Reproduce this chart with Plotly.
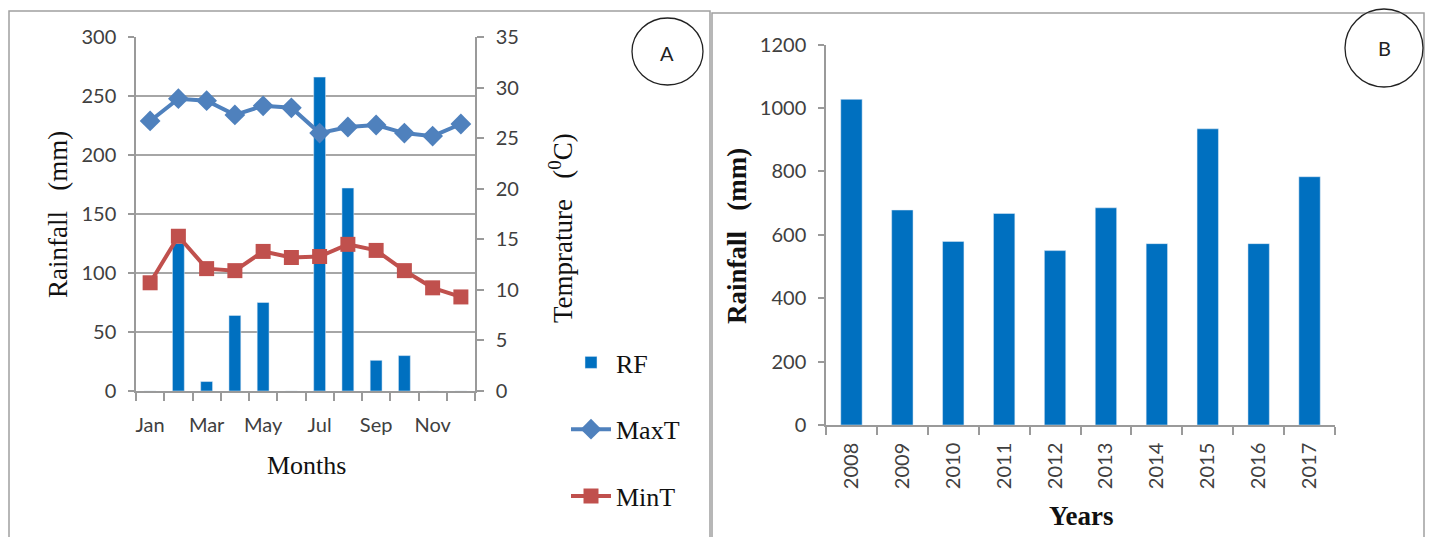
import plotly.graph_objects as go

W, H = 1429, 537

# ---------------- data ----------------
months = ["Jan", "Feb", "Mar", "Apr", "May", "Jun", "Jul", "Aug", "Sep", "Oct", "Nov", "Dec"]
rainfall_monthly = [0, 125, 8, 64, 75, 0, 266, 172, 26, 30, 0, 0]
max_temp = [26.7, 28.9, 28.7, 27.3, 28.2, 28.0, 25.5, 26.1, 26.3, 25.5, 25.2, 26.4]
min_temp = [10.7, 15.3, 12.1, 11.9, 13.8, 13.2, 13.3, 14.5, 13.9, 11.9, 10.2, 9.3]

years = ["2008", "2009", "2010", "2011", "2012", "2013", "2014", "2015", "2016", "2017"]
rainfall_annual = [1027, 678, 579, 667, 550, 685, 572, 934, 572, 783]

month_ticktext = [m if i % 2 == 0 else " " for i, m in enumerate(months)]

# ---------------- styling ----------------
def px(x):
    return x / W

def py(y):
    return 1 - y / H

SANS = "Lato, 'Open Sans', sans-serif"
SERIF = "'Liberation Serif', 'Times New Roman', serif"
TICKCOL = "#404040"
AXCOL = "#9a9a9a"
BLUE_BAR = "#0070C0"
BLUE_LINE = "#4F81BD"
RED_LINE = "#C0504D"

fig = go.Figure()

fig.add_trace(go.Bar(x=months, y=rainfall_monthly, name="RF", marker_color=BLUE_BAR,
                     xaxis="x", yaxis="y", legendgroup="a"))
fig.add_trace(go.Scatter(x=months, y=max_temp, name="MaxT", mode="lines+markers",
                         line=dict(color=BLUE_LINE, width=4),
                         marker=dict(symbol="diamond", size=16, color=BLUE_LINE),
                         xaxis="x", yaxis="y2", legendgroup="b"))
fig.add_trace(go.Scatter(x=months, y=min_temp, name="MinT", mode="lines+markers",
                         line=dict(color=RED_LINE, width=4),
                         marker=dict(symbol="square", size=15, color=RED_LINE),
                         xaxis="x", yaxis="y2", legendgroup="c"))
fig.add_trace(go.Bar(x=years, y=rainfall_annual, name="Annual RF", marker_color=BLUE_BAR,
                     xaxis="x3", yaxis="y3", showlegend=False))

tickfont = dict(family=SANS, size=20, color=TICKCOL)

fig.update_layout(
    width=W, height=H, autosize=False,
    margin=dict(l=0, r=0, t=0, b=0, pad=0),
    paper_bgcolor="white", plot_bgcolor="rgba(0,0,0,0)",
    bargap=0.58,
    showlegend=True,
    legend=dict(x=px(566), y=py(339), xanchor="left", yanchor="top",
                font=dict(family=SERIF, size=26, color="#111"),
                tracegroupgap=30, itemwidth=40, bgcolor="rgba(0,0,0,0)"),
    xaxis=dict(domain=[px(136), px(475)], anchor="y", type="category",
               range=[-0.5, len(months) - 0.5],
               tickmode="array", tickvals=months, ticktext=month_ticktext,
               tickson="boundaries", ticks="outside", ticklen=8, tickwidth=1.5,
               tickcolor=AXCOL, showline=True, linecolor=AXCOL, linewidth=1.5,
               showgrid=False, tickfont=tickfont, tickangle=0, ticklabelstandoff=15,
               automargin=False),
    yaxis=dict(domain=[py(391), py(37)], anchor="x", range=[0, 300], dtick=50,
               showgrid=True, gridcolor="#a6a6a6", gridwidth=1.5,
               ticks="outside", ticklen=6, tickwidth=1.5, tickcolor=AXCOL,
               showline=True, linecolor=AXCOL, linewidth=1.5, zeroline=False,
               tickfont=tickfont, ticklabelstandoff=8, automargin=False),
    yaxis2=dict(overlaying="y", side="right", anchor="x", range=[0, 35], dtick=5,
                showgrid=False, ticks="outside", ticklen=7, tickwidth=1.5,
                tickcolor=AXCOL, showline=True, linecolor=AXCOL, linewidth=1.5,
                zeroline=False, tickfont=tickfont, ticklabelstandoff=8, automargin=False),
    xaxis3=dict(domain=[px(826), px(1335)], anchor="y3", type="category",
                range=[-0.5, len(years) - 0.5],
                tickson="boundaries", ticks="outside", ticklen=8, tickwidth=1.5,
                tickcolor=AXCOL, showline=True, linecolor=AXCOL, linewidth=1.5,
                showgrid=False, tickangle=-90, tickfont=tickfont, ticklabelstandoff=8,
                automargin=False),
    yaxis3=dict(domain=[py(425), py(44.5)], anchor="x3", range=[0, 1200], dtick=200,
                showgrid=False, ticks="outside", ticklen=6, tickwidth=1.5,
                tickcolor=AXCOL, showline=True, linecolor=AXCOL, linewidth=1.5,
                zeroline=False, tickfont=tickfont, ticklabelstandoff=8, automargin=False),
)

# panel borders and label circles
shapes = [
    dict(type="rect", xref="paper", yref="paper", x0=px(9), x1=px(710), y0=py(545), y1=py(11),
         line=dict(color="#a0a0a0", width=1.5)),
    dict(type="rect", xref="paper", yref="paper", x0=px(712), x1=px(1424), y0=py(545), y1=py(13),
         line=dict(color="#a0a0a0", width=1.5)),
    dict(type="circle", xref="paper", yref="paper", x0=px(632), x1=px(703), y0=py(85), y1=py(18),
         line=dict(color="#222", width=1.3)),
    dict(type="circle", xref="paper", yref="paper", x0=px(1345), x1=px(1423), y0=py(87), y1=py(9),
         line=dict(color="#222", width=1.3)),
]
fig.update_layout(shapes=shapes)

def ann(x, y, text, size, family, angle=0, bold=False, color="#111"):
    if bold:
        text = "<b>" + text + "</b>"
    return dict(x=px(x), y=py(y), xref="paper", yref="paper", text=text, showarrow=False,
                textangle=angle, xanchor="center", yanchor="middle",
                font=dict(family=family, size=size, color=color))

nb = "\u00a0"
annotations = [
    ann(58, 215, "Rainfall" + nb * 3 + "(mm)", 27, SERIF, angle=-90),
    ann(561, 228, "Temprature" + nb * 3 + "(<sup>0</sup>C)", 27, SERIF, angle=-90),
    ann(306, 465, "Months", 26, SERIF),
    ann(737, 236, "Rainfall" + nb * 3 + "(mm)", 27, SERIF, angle=-90, bold=True),
    ann(1081, 516, "Years", 27, SERIF, bold=True),
    ann(667, 53, "A", 20, SANS, color="#222"),
    ann(1384, 48, "B", 20, SANS, color="#222"),
]
fig.update_layout(annotations=annotations)

post = ("document.body.style.margin='0';document.body.style.padding='0';"
        "document.body.style.overflow='hidden';"
        "document.documentElement.style.overflow='hidden';")
fig.write_html("out.html", post_script=post, config={"displayModeBar": False})
